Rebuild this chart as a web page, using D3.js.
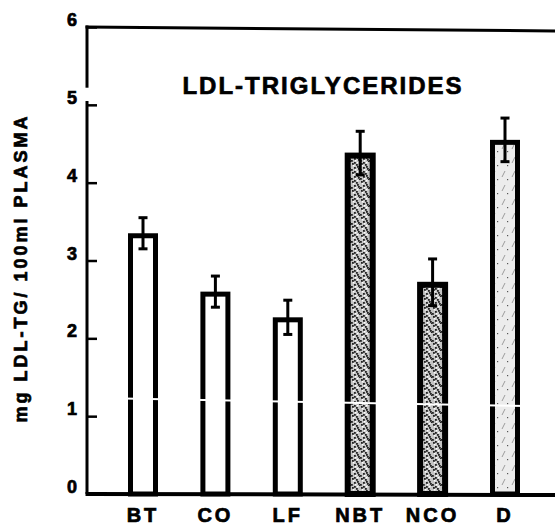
<!DOCTYPE html>
<html>
<head>
<meta charset="utf-8">
<script src="https://cdn.jsdelivr.net/npm/d3@7"></script>
<style>
  body { margin: 0; background: #fff; }
  svg { display: block; font-family: "Liberation Sans", Arial, sans-serif; font-weight: bold; }
  .heavy { stroke: #000; stroke-width: 0.7px; fill: #000; }
</style>
</head>
<body>
<div id="vis"></div>
<script>
const FRAME_WIDTH = 555;
const FRAME_HEIGHT = 532;

// data
const GROUPS = ["BT", "CO", "LF", "NBT", "NCO", "D"];
const MEANS = [3.35, 2.6, 2.27, 4.38, 2.72, 4.55];
const ERRORS = [0.2, 0.2, 0.22, 0.28, 0.3, 0.28];
const FILLS = ["open", "open", "open", "dark", "dark", "light"];
const Y_TICKS = [0, 1, 2, 3, 4, 5, 6];

const AXIS_X = 87;
const BAR_W = 30;

const FRAME = d3.select("#vis")
  .append("svg")
    .attr("width", FRAME_WIDTH)
    .attr("height", FRAME_HEIGHT);

// stipple patterns for the shaded bars
const defs = FRAME.append("defs");
const dark = defs.append("pattern")
  .attr("id", "dark").attr("patternUnits", "userSpaceOnUse")
  .attr("width", 9).attr("height", 9);
dark.append("rect").attr("width", 9).attr("height", 9).attr("fill", "#c4c4c4");
[[1,1],[5,2],[3,5],[7,6],[0,7],[6,4],[3,0],[8,8]].forEach(p => {
  dark.append("rect").attr("x", p[0]).attr("y", p[1]).attr("width", 1.8).attr("height", 1.8).attr("fill", "#222");
});
[[2,3],[6,0],[4,7]].forEach(p => {
  dark.append("rect").attr("x", p[0]).attr("y", p[1]).attr("width", 1.5).attr("height", 1.5).attr("fill", "#fff");
});
const light = defs.append("pattern")
  .attr("id", "light").attr("patternUnits", "userSpaceOnUse")
  .attr("width", 10).attr("height", 14);
light.append("rect").attr("width", 10).attr("height", 14).attr("fill", "#ececec");
light.append("line").attr("x1", 2).attr("y1", 9).attr("x2", 5).attr("y2", 3).attr("stroke", "#888").attr("stroke-width", 0.8);
light.append("rect").attr("x", 7).attr("y", 11).attr("width", 1.2).attr("height", 1.2).attr("fill", "#555");

const X_SCALE = d3.scalePoint()
  .domain(GROUPS)
  .range([143, 505]);

const Y_SCALE = d3.scaleLinear()
  .domain([0, 6])
  .range([494, 27]);

const data = GROUPS.map((g, i) => ({group: g, mean: MEANS[i], err: ERRORS[i], fill: FILLS[i]}));

// bars
FRAME.selectAll(".bar")
  .data(data)
  .enter()
  .append("rect")
    .attr("class", "bar")
    .attr("x", d => X_SCALE(d.group) - BAR_W / 2 + 2.5)
    .attr("y", d => Y_SCALE(d.mean) + 2.5)
    .attr("width", BAR_W - 5)
    .attr("height", d => Y_SCALE(0) - Y_SCALE(d.mean) - 2.5)
    .attr("fill", d => d.fill == "open" ? "#fff" : (d.fill == "dark" ? "url(#dark)" : "url(#light)"))
    .attr("stroke", "#000")
    .attr("stroke-width", d => d.fill == "dark" ? 6 : 5);

// error bars
const errG = FRAME.selectAll(".err")
  .data(data)
  .enter()
  .append("g")
    .attr("class", "err")
    .attr("stroke", "#000")
    .attr("stroke-width", 3);
errG.append("line")
  .attr("x1", d => X_SCALE(d.group)).attr("x2", d => X_SCALE(d.group))
  .attr("y1", d => Y_SCALE(d.mean + d.err)).attr("y2", d => Y_SCALE(d.mean - d.err));
errG.append("line")
  .attr("x1", d => X_SCALE(d.group) - 4.5).attr("x2", d => X_SCALE(d.group) + 4.5)
  .attr("y1", d => Y_SCALE(d.mean + d.err)).attr("y2", d => Y_SCALE(d.mean + d.err));
errG.append("line")
  .attr("x1", d => X_SCALE(d.group) - 4.5).attr("x2", d => X_SCALE(d.group) + 4.5)
  .attr("y1", d => Y_SCALE(d.mean - d.err)).attr("y2", d => Y_SCALE(d.mean - d.err));

// scan streak crossing the bars near 1.2
FRAME.append("line")
  .attr("x1", 110).attr("y1", Y_SCALE(1.23))
  .attr("x2", 530).attr("y2", Y_SCALE(1.13))
  .attr("stroke", "#fff").attr("stroke-width", 2);

// y axis with inward ticks
const yAxis = FRAME.append("g")
  .attr("transform", "translate(" + AXIS_X + ",0)")
  .call(d3.axisLeft(Y_SCALE).tickValues(Y_TICKS).tickFormat(d3.format("d"))
    .tickSizeInner(-10).tickSizeOuter(0).tickPadding(10));
yAxis.select(".domain").remove();
yAxis.selectAll(".tick line").attr("stroke", "#000").attr("stroke-width", 2.5);
yAxis.selectAll(".tick text")
  .attr("class", "heavy")
  .attr("font-size", "18px")
  .attr("font-family", "Liberation Sans, Arial, sans-serif")
  .attr("font-weight", "bold")
  .attr("dy", "-0.08em");

// axis line, broken just above 5
FRAME.append("line")
  .attr("x1", AXIS_X).attr("x2", AXIS_X)
  .attr("y1", Y_SCALE(6) - 1.5).attr("y2", Y_SCALE(5.22))
  .attr("stroke", "#000").attr("stroke-width", 3);
FRAME.append("line")
  .attr("x1", AXIS_X).attr("x2", AXIS_X)
  .attr("y1", Y_SCALE(5.05)).attr("y2", Y_SCALE(0))
  .attr("stroke", "#000").attr("stroke-width", 3);

// top frame line and baseline
FRAME.append("line")
  .attr("x1", AXIS_X - 1.5).attr("x2", FRAME_WIDTH)
  .attr("y1", Y_SCALE(6)).attr("y2", Y_SCALE(6) + 4)
  .attr("stroke", "#000").attr("stroke-width", 3);
FRAME.append("line")
  .attr("x1", AXIS_X - 1.5).attr("x2", FRAME_WIDTH)
  .attr("y1", Y_SCALE(0)).attr("y2", Y_SCALE(0) + 1)
  .attr("stroke", "#000").attr("stroke-width", 4);

// x labels
FRAME.append("g")
  .attr("transform", "translate(0," + (Y_SCALE(0) + 28) + ")")
  .selectAll("text")
  .data(GROUPS)
  .enter()
  .append("text")
    .attr("class", "heavy")
    .attr("x", d => X_SCALE(d))
    .attr("text-anchor", "middle")
    .attr("font-size", "20px")
    .attr("letter-spacing", "3px")
    .text(d => d);

// title
FRAME.append("text")
  .attr("class", "heavy")
  .attr("x", 323)
  .attr("y", 94)
  .attr("text-anchor", "middle")
  .attr("font-size", "24px")
  .attr("letter-spacing", "2px")
  .text("LDL-TRIGLYCERIDES");

// y axis title
FRAME.append("text")
  .attr("class", "heavy")
  .attr("transform", "translate(27,268) rotate(-90)")
  .attr("text-anchor", "middle")
  .attr("font-size", "18px")
  .attr("letter-spacing", "3px")
  .text("mg LDL-TG/ 100ml PLASMA");
</script>
</body>
</html>
